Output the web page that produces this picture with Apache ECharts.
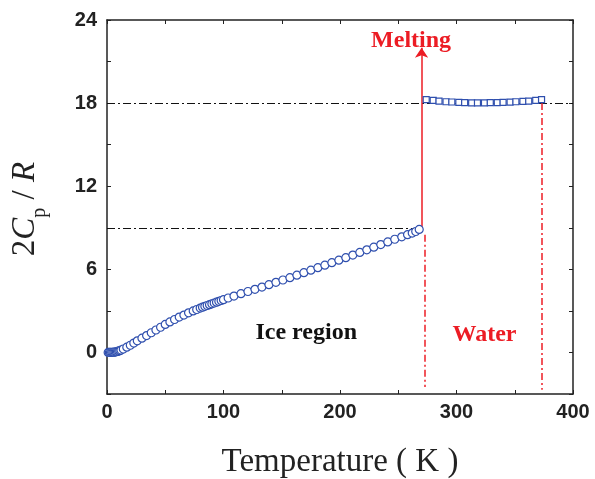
<!DOCTYPE html>
<html>
<head>
<meta charset="utf-8">
<script src="https://cdn.jsdelivr.net/npm/echarts@6/dist/echarts.min.js"></script>
<style>
  html, body { margin: 0; padding: 0; background: #fff; }
  #main { width: 595px; height: 479px; }
</style>
</head>
<body>
<div id="main"></div>
<script>
// ice (circles)
var iceT = [1, 2, 3, 4, 5, 6, 7, 8, 9, 10, 11, 12, 14, 17, 20, 23, 26, 30, 34, 38, 42, 46, 50, 54, 58, 62, 66, 70, 74, 77, 80,
    82, 84, 86, 88, 90, 92, 94, 96, 98, 100, 104, 109, 115, 121, 127, 133, 139, 145, 151, 157, 163, 169, 175, 181, 187,
    193, 199, 205, 211, 217, 223, 229, 235, 241, 247, 253, 258, 262, 265, 268];
var iceCp = [0.0, 0.0, 0.0, 0.01, 0.01, 0.02, 0.03, 0.05, 0.07, 0.1, 0.13, 0.17, 0.25, 0.38, 0.52, 0.68, 0.84, 1.03, 1.22,
    1.42, 1.62, 1.82, 2.02, 2.2, 2.38, 2.55, 2.7, 2.86, 3.0, 3.1, 3.2, 3.27, 3.33, 3.39, 3.45, 3.51, 3.57, 3.63, 3.69,
    3.75, 3.81, 3.93, 4.07, 4.24, 4.4, 4.56, 4.72, 4.89, 5.06, 5.23, 5.4, 5.58, 5.76, 5.94, 6.12, 6.3, 6.48, 6.66, 6.84,
    7.03, 7.22, 7.41, 7.6, 7.79, 7.98, 8.17, 8.35, 8.5, 8.62, 8.73, 8.88];
// water (squares)
var waterT = [274, 280, 285, 291, 296, 302, 307, 313, 318, 324, 329, 335, 340, 346, 351, 357, 362, 368, 373];
var waterCp = [18.25, 18.2, 18.15, 18.1, 18.08, 18.05, 18.03, 18.02, 18.02, 18.02, 18.03, 18.04, 18.05, 18.07, 18.1,
    18.12, 18.15, 18.2, 18.25];

// guide lines
var guideBlack = [[[0, 18], [400, 18]], [[0, 9], [266, 9]]];
var guideRed = [[[273, 8.5], [273, -2.5]], [[373, 18], [373, -2.7]]];
var meltArrow = [[[270, 8.9], [270, 22]]];

var xTicks = [0, 100, 200, 300, 400];
var yTicks = [0, 6, 12, 18, 24];

function zip(a, b) {
    var out = [];
    for (var i = 0; i < a.length; i++) out.push([a[i], b[i]]);
    return out;
}
function asCoords(list) {
    return list.map(function (l) { return { coords: l }; });
}

var myChart = echarts.init(document.getElementById('main'));

var axisCommon = {
    axisLine: { onZero: false, lineStyle: { color: '#222', width: 1.5 } },
    axisTick: { inside: true, length: 4, lineStyle: { color: '#222', width: 1 } },
    splitLine: { show: false }
};
var labelFont = { color: '#222', fontSize: 20, fontWeight: 'bold', fontFamily: 'Liberation Sans' };
var red = '#ec1c24';

option = {
    backgroundColor: '#fff',
    animation: false,
    grid: { left: 107, right: 22, top: 20, bottom: 85, containLabel: false, outerBoundsMode: 'none' },
    xAxis: [
        Object.assign({
            type: 'value', min: 0, max: 400, interval: 50, position: 'bottom',
            axisLabel: Object.assign({
                margin: 8,
                formatter: function (v) { return xTicks.indexOf(v) >= 0 ? v : ''; }
            }, labelFont),
            name: 'Temperature ( K )',
            nameLocation: 'middle',
            nameGap: 52,
            nameTextStyle: { fontFamily: 'Liberation Serif', fontSize: 33, color: '#222' }
        }, axisCommon),
        Object.assign({
            type: 'value', min: 0, max: 400, interval: 50, position: 'top',
            axisLabel: { show: false }
        }, axisCommon)
    ],
    yAxis: [
        Object.assign({
            type: 'value', min: -3, max: 24, interval: 3, position: 'left',
            axisLabel: Object.assign({
                margin: 10,
                formatter: function (v) { return yTicks.indexOf(v) >= 0 ? v : ''; }
            }, labelFont)
        }, axisCommon),
        Object.assign({
            type: 'value', min: -3, max: 24, interval: 3, position: 'right',
            axisLabel: { show: false }
        }, axisCommon)
    ],
    graphic: [
        {
            type: 'text', x: 22, y: 209, rotation: Math.PI / 2,
            style: {
                text: '{n|2}{i|C}{s|p}{n| / }{i|R}',
                align: 'center', verticalAlign: 'middle',
                fill: '#222',
                rich: {
                    n: { fontFamily: 'Liberation Serif', fontSize: 33, fill: '#222', lineHeight: 40, verticalAlign: 'bottom' },
                    i: { fontFamily: 'Liberation Serif', fontStyle: 'italic', fontSize: 33, fill: '#222', lineHeight: 40, verticalAlign: 'bottom' },
                    s: { fontFamily: 'Liberation Serif', fontSize: 20, fill: '#222', lineHeight: 40, verticalAlign: 'bottom', padding: [0, 0, -8, 0] }
                }
            }
        }
    ],
    series: [
        {
            type: 'lines', coordinateSystem: 'cartesian2d', silent: true,
            data: asCoords(guideBlack),
            lineStyle: { color: '#111', width: 1.2, type: [8, 3, 2, 3], opacity: 1 }
        },
        {
            type: 'lines', coordinateSystem: 'cartesian2d', silent: true,
            data: asCoords(guideRed),
            lineStyle: { color: red, width: 1.5, type: [7, 3, 2, 3], opacity: 1 }
        },
        {
            type: 'lines', coordinateSystem: 'cartesian2d', silent: true,
            data: asCoords(meltArrow),
            symbol: ['none', 'arrow'], symbolSize: [6, 10],
            itemStyle: { color: red },
            lineStyle: { color: red, width: 1.5, opacity: 1 }
        },
        {
            type: 'scatter',
            data: zip(iceT, iceCp),
            symbol: 'circle', symbolSize: 8,
            itemStyle: { color: '#fff', borderColor: '#2f4fae', borderWidth: 1.2, opacity: 1 }
        },
        {
            type: 'scatter',
            data: zip(waterT, waterCp),
            symbol: 'rect', symbolSize: 6,
            itemStyle: { color: '#fff', borderColor: '#2f4fae', borderWidth: 1.2, opacity: 1 }
        },
        {
            type: 'scatter', silent: true, symbolSize: 0,
            itemStyle: { opacity: 1 },
            data: [
                { value: [261, 22.5], label: { formatter: 'Melting', color: red } },
                { value: [171, 1.4], label: { formatter: 'Ice region', color: '#111' } },
                { value: [324, 1.3], label: { formatter: 'Water', color: red } }
            ],
            label: {
                show: true, position: 'inside', opacity: 1,
                fontFamily: 'Liberation Serif', fontWeight: 'bold', fontSize: 24
            }
        }
    ]
};
myChart.setOption(option);
</script>
</body>
</html>
